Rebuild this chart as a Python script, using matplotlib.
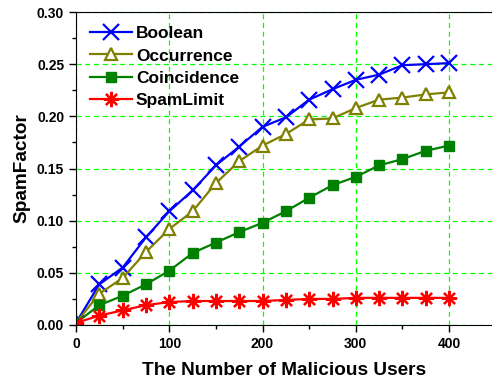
import matplotlib
matplotlib.use('Agg')
import matplotlib.pyplot as plt
from matplotlib.ticker import MultipleLocator

plt.rcParams['font.family'] = ['Liberation Sans', 'DejaVu Sans']
plt.rcParams['font.weight'] = 'bold'

users = [0, 25, 50, 75, 100, 125, 150, 175, 200, 225, 250, 275, 300, 325, 350, 375, 400]
boolean = [0.002, 0.039, 0.055, 0.084, 0.109, 0.129, 0.153, 0.171, 0.190, 0.199, 0.216, 0.226, 0.235, 0.240, 0.249, 0.250, 0.251]
occurrence = [0.002, 0.030, 0.045, 0.070, 0.092, 0.109, 0.136, 0.157, 0.172, 0.183, 0.197, 0.198, 0.208, 0.216, 0.218, 0.221, 0.223]
coincidence = [0.002, 0.019, 0.028, 0.039, 0.052, 0.069, 0.079, 0.089, 0.098, 0.109, 0.122, 0.134, 0.142, 0.153, 0.159, 0.167, 0.172]
spamlimit = [0.002, 0.009, 0.014, 0.019, 0.022, 0.023, 0.023, 0.023, 0.023, 0.024, 0.025, 0.025, 0.026, 0.026, 0.026, 0.026, 0.026]

fig = plt.figure(figsize=(4.92, 3.79), dpi=100)
ax = fig.add_axes([0.1545, 0.1425, 0.8455, 0.8258])

ax.plot(users, boolean, color='#0000ff', lw=1.6, marker='x', ms=11, mew=1.6, label='Boolean')
ax.plot(users, occurrence, color='#808000', lw=1.6, marker='^', ms=9, mew=1.6,
        markerfacecolor='white', label='Occurrence')
ax.plot(users, coincidence, color='#008000', lw=1.6, marker='s', ms=7, label='Coincidence')
ax.plot(users, spamlimit, color='#ff0000', lw=1.6, marker=(8, 2, 0), ms=11, mew=1.6, label='SpamLimit')

ax.set_xlim(0, 446)
ax.set_ylim(0, 0.30)
ax.xaxis.set_major_locator(MultipleLocator(100))
ax.xaxis.set_minor_locator(MultipleLocator(50))
ax.yaxis.set_major_locator(MultipleLocator(0.05))
ax.yaxis.set_minor_locator(MultipleLocator(0.025))
ax.yaxis.set_major_formatter(plt.FormatStrFormatter('%.2f'))
ax.tick_params(which='major', length=5, width=1, labelsize=10, direction='out')
ax.tick_params(which='minor', length=3, width=1, direction='out')
ax.spines['right'].set_visible(False)
ax.grid(True, which='major', color='#00ff00', linestyle='--', lw=0.9, dashes=(4, 3))
ax.set_axisbelow(True)

ax.set_xlabel('The Number of Malicious Users', fontsize=13.7, fontweight='bold', labelpad=8)
ax.set_ylabel('SpamFactor', fontsize=13.7, fontweight='bold', labelpad=5)

ax.legend(loc='upper left', frameon=False, handlelength=2.4,
          labelspacing=0.42, borderaxespad=0.4, handletextpad=0.25,
          prop={'weight': 'bold', 'size': 12.5})

fig.savefig('out.png', dpi=100)
